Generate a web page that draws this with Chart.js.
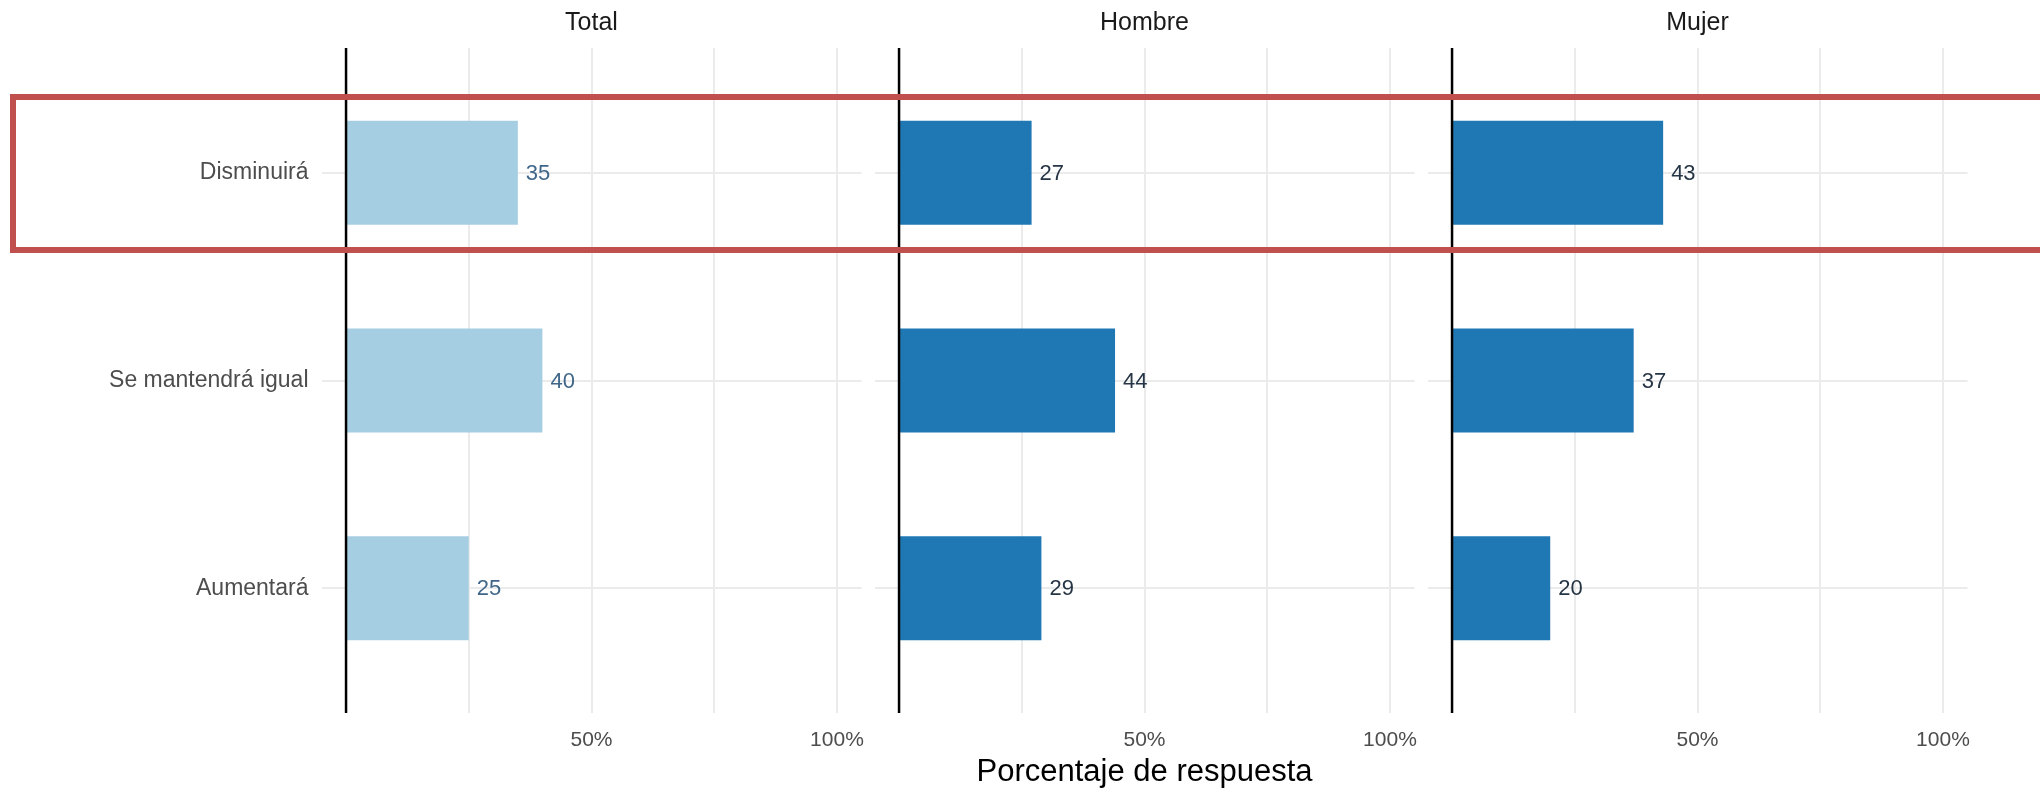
<!DOCTYPE html>
<html>
<head>
<meta charset="utf-8">
<script src="https://cdn.jsdelivr.net/npm/chart.js@4.4.1/dist/chart.umd.min.js"></script>
<style>
  html, body { margin: 0; padding: 0; background: #fff; }
  #wrap { position: relative; width: 2040px; height: 789px; overflow: hidden; }
  #wrap canvas { position: absolute; left: 0; top: 0; }
  #highlight {
    position: absolute; left: 10px; top: 94px; width: 2100px; height: 159px;
    border: 6px solid #c0504d; box-sizing: border-box; pointer-events: none;
  }
</style>
</head>
<body>
<div id="wrap">
  <canvas id="panelTotal" width="2040" height="789"></canvas>
  <canvas id="panelHombre" width="2040" height="789"></canvas>
  <canvas id="panelMujer" width="2040" height="789"></canvas>
  <div id="highlight"></div>
</div>
<script>
const categories = ['Disminuirá', 'Se mantendrá igual', 'Aumentará'];
const panelTitles = ['Total', 'Hombre', 'Mujer'];
const totalValues = [35, 40, 25];
const hombreValues = [27, 44, 29];
const mujerValues = [43, 37, 20];
const xTicks = [0, 25, 50, 75, 100];
const xTickLabels = ['', '', '50%', '', '100%'];
const axisTitle = 'Porcentaje de respuesta';

const FONT = '"Liberation Sans", Arial, Helvetica, sans-serif';

// value labels at the end of each bar
const valueLabels = {
  id: 'valueLabels',
  afterDatasetsDraw(chart, args, opts) {
    const ctx = chart.ctx;
    const meta = chart.getDatasetMeta(0);
    const data = chart.data.datasets[0].data;
    ctx.save();
    ctx.font = '22px ' + FONT;
    ctx.fillStyle = opts.color;
    ctx.textBaseline = 'middle';
    ctx.textAlign = 'left';
    meta.data.forEach((bar, i) => {
      ctx.fillText(String(data[i].x), bar.x + 8, bar.y + 1);
    });
    ctx.restore();
  }
};

// black reference line at 0
const zeroLine = {
  id: 'zeroLine',
  afterDatasetsDraw(chart) {
    const ctx = chart.ctx;
    const x = chart.scales.x.getPixelForValue(0);
    ctx.save();
    ctx.strokeStyle = '#000';
    ctx.lineWidth = 2.5;
    ctx.beginPath();
    ctx.moveTo(x, chart.chartArea.top);
    ctx.lineTo(x, chart.chartArea.bottom);
    ctx.stroke();
    ctx.restore();
  }
};

const panels = [
  { id: 'panelTotal', title: panelTitles[0], values: totalValues, color: '#a6cee3', labelColor: '#40678a',
    padLeft: 0, yWidth: 321.5, right: 861.5, showY: true, showAxisTitle: false },
  { id: 'panelHombre', title: panelTitles[1], values: hombreValues, color: '#1f78b4', labelColor: '#263545',
    padLeft: 874.5, yWidth: 0, right: 1414.5, showY: false, showAxisTitle: true },
  { id: 'panelMujer', title: panelTitles[2], values: mujerValues, color: '#1f78b4', labelColor: '#263545',
    padLeft: 1427.5, yWidth: 0, right: 1967.5, showY: false, showAxisTitle: false }
];

panels.forEach(p => {
  const ctx = document.getElementById(p.id).getContext('2d');
  new Chart(ctx, {
    type: 'bar',
    data: {
      datasets: [{
        data: p.values.map((v, i) => ({ x: v, y: i })),
        backgroundColor: p.color,
        barPercentage: 0.5,
        categoryPercentage: 1
      }]
    },
    options: {
      indexAxis: 'y',
      responsive: false,
      animation: false,
      layout: { padding: { left: p.padLeft, right: 2040 - p.right, top: 0, bottom: 0 } },
      plugins: {
        legend: { display: false },
        tooltip: { enabled: false },
        title: {
          display: true,
          text: p.title,
          fullSize: false,
          color: '#1a1a1a',
          font: { family: FONT, size: 25, weight: 'normal' },
          padding: { top: 8, bottom: 10 }
        },
        valueLabels: { color: p.labelColor }
      },
      scales: {
        x: {
          type: 'linear',
          min: -5,
          max: 105,
          afterBuildTicks: s => { s.ticks = xTicks.map(v => ({ value: v })); },
          afterFit: s => { s.height = 76; },
          grid: { color: '#ebebeb', lineWidth: 2, drawTicks: false },
          border: { display: false },
          ticks: {
            autoSkip: false,
            maxRotation: 0,
            padding: 15,
            color: '#4d4d4d',
            font: { family: FONT, size: 21 },
            callback: (v, i) => xTickLabels[i]
          },
          title: {
            display: p.showAxisTitle,
            text: axisTitle,
            color: '#000',
            font: { family: FONT, size: 31, lineHeight: 1 },
            padding: { top: 0, bottom: 1 }
          }
        },
        y: {
          type: 'linear',
          min: -0.6,
          max: 2.6,
          reverse: true,
          offset: false,
          afterBuildTicks: s => { s.ticks = categories.map((c, i) => ({ value: i })); },
          afterFit: s => { s.width = p.yWidth; },
          grid: { color: '#ebebeb', lineWidth: 2, drawTicks: false, offset: false },
          border: { display: false },
          ticks: {
            display: p.showY,
            padding: 13,
            color: '#4d4d4d',
            font: { family: FONT, size: 23 },
            callback: v => categories[v]
          }
        }
      }
    },
    plugins: [valueLabels, zeroLine]
  });
});
</script>
</body>
</html>
